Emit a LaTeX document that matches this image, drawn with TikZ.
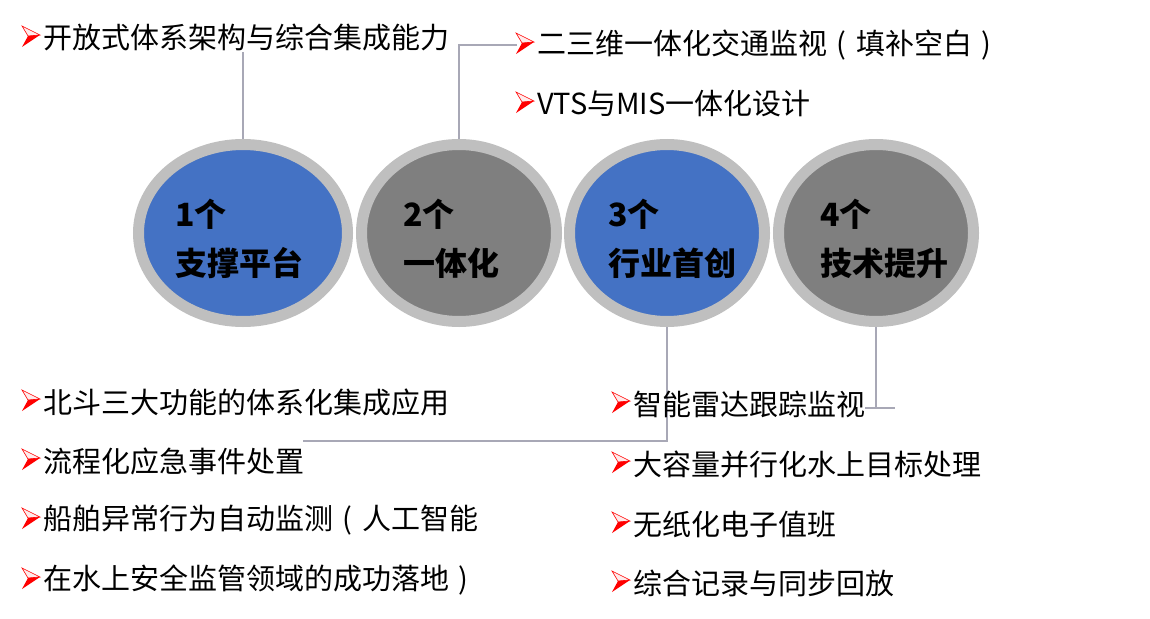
\documentclass[tikz,border=0pt]{standalone}
\usepackage{fontspec}
\setmainfont{Noto Sans CJK SC}
\usepackage{tikz}
\usetikzlibrary{shapes.geometric,backgrounds}

\definecolor{discblue}{RGB}{68,114,196}
\definecolor{discgray}{RGB}{127,127,127}
\definecolor{ringgray}{RGB}{191,191,191}
\definecolor{linkgray}{RGB}{168,168,182}

\newcommand{\lpar}{\makebox[1em][c]{(}}
\newcommand{\rpar}{\makebox[1em][c]{)}}

\tikzset{
  disc/.style={ellipse, draw=ringgray, line width=11pt, inner sep=0pt,
    minimum width=195pt, minimum height=177pt},
  num/.style={anchor=west, align=left, inner sep=0pt,
    font=\fontsize{32}{49}\selectfont\bfseries},
  item/.style={anchor=west, inner sep=0pt, font=\fontsize{29}{29}\selectfont},
  link/.style={draw=linkgray, line width=1.2pt},
  bul/.pic={
    \filldraw[red, fill=red!8, line width=0.6pt] (0,-12) -- (18,-3) -- (6,-2) -- cycle;
    \fill[red] (6,-2) -- (18,-3) -- (0,9) -- cycle;
  }
}

\begin{document}
\begin{tikzpicture}[x=1pt, y=-1pt]
    \useasboundingbox (0,0) rectangle (1150,618);

    % the four discs
    \node[disc, fill=discblue, minimum width=209pt] (c1) at (243,233) {};
    \node[disc, fill=discgray] (c2) at (459,233) {};
    \node[disc, fill=discblue] (c3) at (667,233) {};
    \node[disc, fill=discgray] (c4) at (876,233) {};

    \node[num] (t1) at (175,239) {1个\\支撑平台};
    \node[num] (t2) at (403,239) {2个\\一体化};
    \node[num] (t3) at (608,239) {3个\\行业首创};
    \node[num] (t4) at (820,239) {4个\\技术提升};

    % items
    \node[item] (l0) at (43,38) {开放式体系架构与综合集成能力};

    \node[item] (m1) at (537,45) {二三维一体化交通监视\lpar 填补空白\rpar};
    \node[item] (m2) at (537,104) {VTS与MIS一体化设计};

    \node[item] (b1) at (43,402) {北斗三大功能的体系化集成应用};
    \node[item] (b2) at (43,461) {流程化应急事件处置};
    \node[item] (b3) at (43,520) {船舶异常行为自动监测\lpar 人工智能};
    \node[item] (b4) at (43,580) {在水上安全监管领域的成功落地\rpar};

    \node[item] (r1) at (633,404) {智能雷达跟踪监视};
    \node[item] (r2) at (633,464) {大容量并行化水上目标处理};
    \node[item] (r3) at (633,524) {无纸化电子值班};
    \node[item] (r4) at (633,583) {综合记录与同步回放};

    \coordinate (k3) at (303,441);
    \coordinate (k4) at (895,408);

    \begin{scope}[on background layer]
      \draw[link] (c1.north) -- (c1.north |- l0.south);
      \draw[link] (c2.north) |- ([xshift=-20pt]m1.west);
      \draw[link] (c3.south) |- (k3);
      \draw[link] (c4.south) |- (k4);
      \draw[link] (r1.east |- k4) -- (k4);
    \end{scope}

    \foreach \n in {l0,m1,m2,b1,b2,b3,b4,r1,r2,r3,r4}
      \pic at ([xshift=-21pt]\n.west) {bul};
\end{tikzpicture}
\end{document}
